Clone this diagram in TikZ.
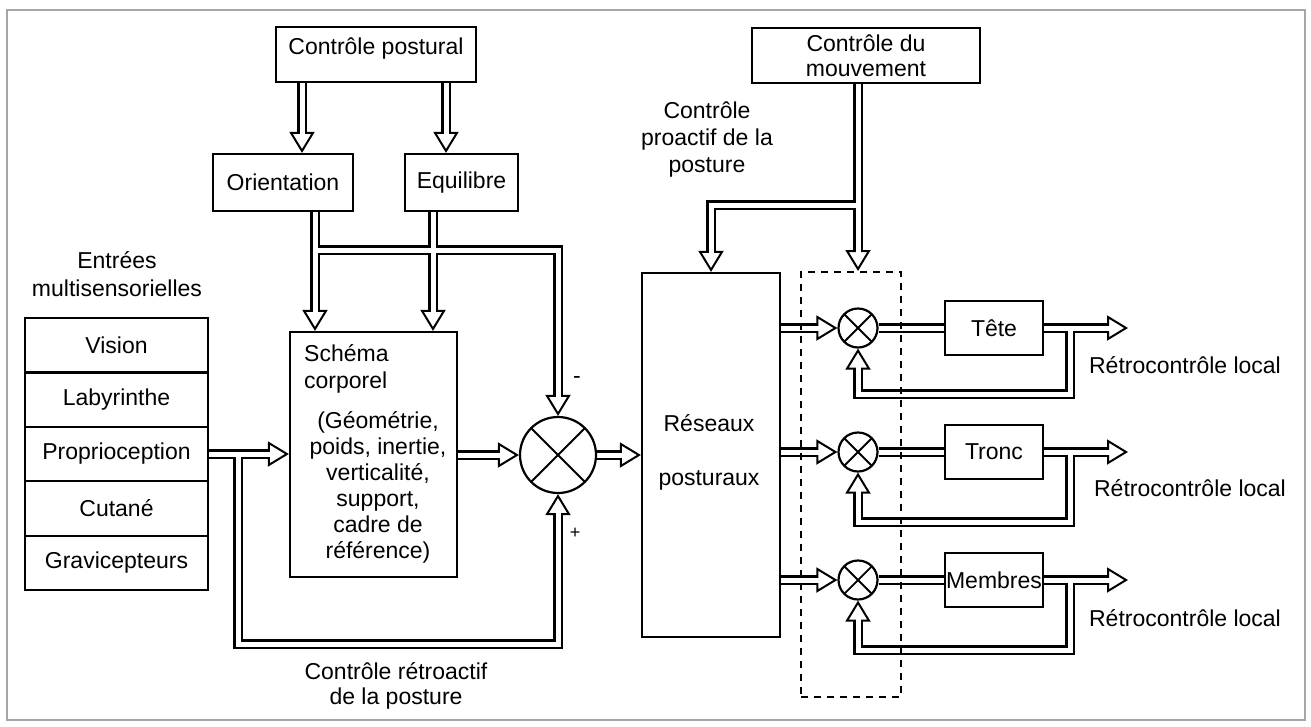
\documentclass[tikz,border=0pt]{standalone}
\usepackage{fontspec}
\setmainfont{Liberation Sans}
\usetikzlibrary{arrows.meta,calc}
\pgfdeclarelayer{bg}
\pgfdeclarelayer{mid}
\pgfsetlayers{bg,mid,main}
\newcommand\dblarrow[1]{%
  \begin{pgfonlayer}{bg}\draw[line width=10pt,-hollow] #1;\end{pgfonlayer}
  \begin{pgfonlayer}{mid}\draw[white,line width=5pt,shorten >=9pt] #1;\end{pgfonlayer}}
\newcommand\dblline[1]{%
  \begin{pgfonlayer}{bg}\draw[line width=10pt] #1;\end{pgfonlayer}
  \begin{pgfonlayer}{mid}\draw[white,line width=5pt] #1;\end{pgfonlayer}}
\tikzset{
  hollow/.tip={Triangle[fill=white,length=21pt,width=25pt,line width=2pt]},
  box/.style={draw,line width=2.2pt,inner sep=0pt},
  sumnode/.style={draw,circle,line width=2.2pt,inner sep=0pt,minimum size=#1,
    path picture={\draw[line width=1.8pt]
      (path picture bounding box.north west) -- (path picture bounding box.south east)
      (path picture bounding box.north east) -- (path picture bounding box.south west);}},
  txt/.style={inner sep=0pt},
}
\begin{document}
\begin{tikzpicture}[x=1pt,y=-1pt,
  every node/.style={inner sep=0pt,font=\fontsize{23pt}{26pt}\selectfont}]
\useasboundingbox (0,0) rectangle (1311,726);
\draw[gray!70,line width=1.5pt] (7,10) rectangle (1305,720);

% left part
\node[box,minimum width=200pt,minimum height=55pt] (cp) at (376,54.5) {};
\node[txt] (cpt) at (376,49) {Contrôle postural};
\node[box,minimum width=140pt,minimum height=57pt] (orient) at (283,182.5) {Orientation};
\node[box,minimum width=113pt,minimum height=57pt] (equil) at (461.5,182.5) {Equilibre};
\node[txt,align=center,font=\fontsize{23pt}{28pt}\selectfont] (entrees) at (117,274) {Entrées\\multisensorielles};

\node[box,minimum width=183pt,minimum height=54.4pt] (vision) at (116.5,345.2) {Vision};
\node[box,minimum width=183pt,minimum height=54.4pt] (laby) at (116.5,399.6) {Labyrinthe};
\node[box,minimum width=183pt,minimum height=54.4pt] (proprio) at (116.5,454) {Proprioception};
\node[box,minimum width=183pt,minimum height=54.4pt] (cutane) at (116.5,508.4) {Cutané};
\node[box,minimum width=183pt,minimum height=54.4pt] (grav) at (116.5,562.8) {Gravicepteurs};

\node[box,minimum width=167pt,minimum height=245pt] (schema) at (373.5,454.5) {};
\node[txt,anchor=west] (sch1) at (304,353) {Schéma};
\node[txt,anchor=west] (sch2) at (304,383) {corporel};
\node[txt,align=center] (sch3) at (378,487) {(Géométrie,\\poids, inertie,\\verticalité,\\support,\\cadre de\\référence)};

\node[sumnode=76pt] (sum) at (558,455) {};
\node[txt] (minus) at (577,380) {-};
\node[txt,font=\fontsize{18pt}{20pt}\selectfont] (plus) at (575,533) {+};
\node[txt,align=center,font=\fontsize{23pt}{25pt}\selectfont] (retro) at (396,685.5) {Contrôle rétroactif\\de la posture};

% right part
\node[box,minimum width=138pt,minimum height=364pt] (res) at (711,455) {};
\node[txt] (res1) at (709,423) {Réseaux};
\node[txt] (res2) at (709,480) {posturaux};
\node[box,minimum width=228pt,minimum height=55pt,align=center,font=\fontsize{23pt}{25pt}\selectfont] (cm) at (866,55.5) {Contrôle du\\mouvement};
\node[txt,align=center,font=\fontsize{23pt}{27pt}\selectfont] (pro) at (707,140) {Contrôle\\proactif de la\\posture};

\node[sumnode=39pt] (s1) at (858,328) {};
\node[sumnode=39pt] (s2) at (858,452) {};
\node[sumnode=39pt] (s3) at (858,580) {};
\node[box,minimum width=98pt,minimum height=54pt] (tete) at (994,328) {Tête};
\node[box,minimum width=98pt,minimum height=54pt] (tronc) at (994,452) {Tronc};
\node[box,minimum width=98pt,minimum height=54pt] (memb) at (994,580) {Membres};
\coordinate (o1) at (1128,328);
\coordinate (o2) at (1128,452);
\coordinate (o3) at (1128,580);
\node[txt] (r1) at (1185,365) {Rétrocontrôle local};
\node[txt] (r2) at (1190,488) {Rétrocontrôle local};
\node[txt] (r3) at (1185,618) {Rétrocontrôle local};

\node[draw,dash pattern=on 7pt off 6pt,line width=2pt,minimum width=100pt,minimum height=425pt] (dash) at (851,484.5) {};

% connectors (left)
\dblarrow{($(cp.south)+(-74,0)$) -- ($(orient.north)+(19,0)$)}
\dblarrow{($(cp.south)+(70,0)$) -- ($(equil.north)+(-15.5,0)$)}
\dblarrow{($(orient.south)+(32,0)$) -- ($(schema.north)+(-58.5,0)$)}
\dblarrow{($(equil.south)+(-28.5,0)$) -- ($(schema.north)+(59.5,0)$)}
\dblarrow{($(orient.south)+(32,38)$) -| (sum.north)}
\dblarrow{(proprio.east) -- (proprio.east -| schema.west)}
\dblarrow{($(proprio.east)+(29,0)$) -- ++(0,190) -| (sum.south)}
\dblarrow{(schema.east |- sum.west) -- (sum.west)}
\dblarrow{(sum.east) -- (sum.east -| res.west)}
% connectors (right)
\dblarrow{($(cm.south)+(-8,0)$) -- ($(dash.north)+(7,0)$)}
\dblarrow{($(cm.south)+(-8,121)$) -| (res.north)}
\dblarrow{(res.east |- s1.west) -- (s1.west)}
\dblarrow{(res.east |- s2.west) -- (s2.west)}
\dblarrow{(res.east |- s3.west) -- (s3.west)}
\dblline{(s1.east) -- (tete.west)}
\dblline{(s2.east) -- (tronc.west)}
\dblline{(s3.east) -- (memb.west)}
\dblarrow{(tete.east) -- (o1)}
\dblarrow{(tronc.east) -- (o2)}
\dblarrow{(memb.east) -- (o3)}
\dblarrow{($(tete.east)+(26,0)$) -- ++(0,66) -| (s1.south)}
\dblarrow{($(tronc.east)+(26,0)$) -- ++(0,70) -| (s2.south)}
\dblarrow{($(memb.east)+(26,0)$) -- ++(0,70) -| (s3.south)}
\end{tikzpicture}
\end{document}
